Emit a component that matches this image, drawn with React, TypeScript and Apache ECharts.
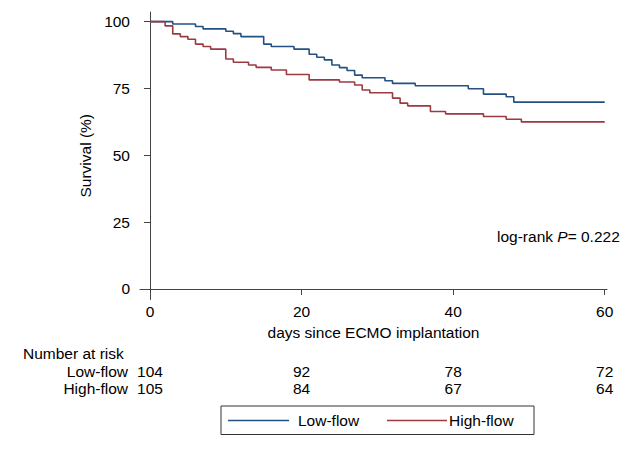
import React, { useEffect, useRef } from "react";
import * as echarts from "echarts";

// ---- data ----
const lowFlowDays = [0, 3, 6, 7, 10, 11, 12, 15, 16, 19, 21, 22, 23, 24, 25, 26, 27, 28, 31, 32, 35, 42, 44, 47, 48, 60];
const lowFlowSurv = [100, 99.1, 98.2, 97.3, 96.4, 95.5, 94.4, 91.6, 90.7, 89.7, 87.8, 86.7, 85.7, 83.8, 82.8, 81.7, 80.0, 79.0, 77.9, 76.9, 76.0, 74.9, 72.9, 71.9, 69.9, 69.9];
const highFlowDays = [0, 2, 3, 4, 5, 6, 7, 8, 10, 11, 13, 14, 16, 18, 21, 25, 27, 28, 29, 32, 33, 34, 37, 39, 44, 47, 49, 60];
const highFlowSurv = [100, 98.4, 95.4, 94.4, 93.4, 91.6, 90.7, 89.7, 86.0, 84.8, 83.8, 82.9, 81.9, 80.2, 78.2, 77.4, 76.3, 74.4, 73.4, 71.4, 69.5, 68.5, 66.4, 65.5, 64.5, 63.5, 62.5, 62.5];
const xTicks = [0, 20, 40, 60];
const yTicks = [0, 25, 50, 75, 100];
const lowFlowAtRisk = [104, 92, 78, 72];
const highFlowAtRisk = [105, 84, 67, 64];
const seriesNames = ["Low-flow", "High-flow"];
const logRankText = "0.222";

const FONT = "'Liberation Sans', Arial, Helvetica, sans-serif";
const BLUE = "#24517f";
const RED = "#9c3a42";
const AXIS = "#444";
const FS = 15.5;
const LH = 16;

export default function App() {
  const ref = useRef<HTMLDivElement>(null);
  useEffect(() => {
    if (!ref.current) return;
    const chart = echarts.init(ref.current, null, { renderer: "svg" });
    const riskAxis = (offset: number, values: number[]) => ({
      type: "value",
      gridIndex: 0,
      position: "bottom",
      offset,
      min: -1.32,
      max: 60.3,
      axisLine: { show: false },
      axisTick: { show: false },
      splitLine: { show: false },
      axisLabel: {
        customValues: xTicks,
        margin: 0,
        color: "#000",
        fontSize: FS,
        lineHeight: LH,
        fontFamily: FONT,
        formatter: (v: number) => String(values[xTicks.indexOf(v)] ?? ""),
      },
    });
    const txt = (x: number, y: number, text: string, align: string) => ({
      type: "text",
      x,
      y,
      style: { text, fontSize: FS, lineHeight: LH, fontFamily: FONT, fill: "#000", verticalAlign: "middle", align },
    });
    chart.setOption({
      animation: false,
      backgroundColor: "#fff",
      grid: { left: 140, top: 12, width: 467, height: 287.5, containLabel: false },
      xAxis: [
        {
          type: "value",
          min: -1.32,
          max: 60.3,
          axisLine: { show: true, lineStyle: { color: AXIS, width: 1 } },
          axisTick: { show: true, length: 6, customValues: xTicks, lineStyle: { color: AXIS } },
          axisLabel: { customValues: xTicks, margin: 4, color: "#000", fontSize: FS, fontFamily: FONT },
          splitLine: { show: false },
          name: "days since ECMO implantation",
          nameLocation: "middle",
          nameGap: 23,
          nameTextStyle: { color: "#000", fontSize: FS, fontFamily: FONT },
        },
        riskAxis(63.5, lowFlowAtRisk),
        riskAxis(80.5, highFlowAtRisk),
      ],
      yAxis: {
        type: "value",
        min: -3.93,
        max: 103.6,
        axisLine: { show: true, lineStyle: { color: AXIS, width: 1 } },
        axisTick: { show: true, length: 6, customValues: yTicks, lineStyle: { color: AXIS } },
        axisLabel: { customValues: yTicks, margin: 10, color: "#000", fontSize: FS, fontFamily: FONT },
        splitLine: { show: false },
        name: "Survival (%)",
        nameLocation: "middle",
        nameRotate: 90,
        nameGap: 39,
        nameTextStyle: { color: "#000", fontSize: FS, fontFamily: FONT },
      },
      series: [
        {
          name: seriesNames[0],
          type: "line",
          step: "end",
          xAxisIndex: 0,
          symbol: "none",
          lineStyle: { color: BLUE, width: 1.6 },
          data: lowFlowDays.map((d, i) => [d, lowFlowSurv[i]]),
        },
        {
          name: seriesNames[1],
          type: "line",
          step: "end",
          xAxisIndex: 0,
          symbol: "none",
          lineStyle: { color: RED, width: 1.6 },
          data: highFlowDays.map((d, i) => [d, highFlowSurv[i]]),
        },
      ],
      graphic: [
        {
          type: "text",
          x: 497,
          y: 236,
          style: {
            text: "{a|log-rank }{i|P}{a|= " + logRankText + "}",
            verticalAlign: "middle",
            align: "left",
            rich: {
              a: { fontSize: FS, fontFamily: FONT, fill: "#000", color: "#000" },
              i: { fontSize: FS, fontFamily: FONT, fontStyle: "italic", fill: "#000", color: "#000" },
            },
          },
        },
        txt(23, 353, "Number at risk", "left"),
        txt(128, 371, seriesNames[0], "right"),
        txt(128, 388, seriesNames[1], "right"),
        { type: "rect", shape: { x: 221, y: 406, width: 313, height: 28.5 }, style: { fill: "#fff", stroke: "#333", lineWidth: 1 } },
        { type: "line", shape: { x1: 228, y1: 420.5, x2: 289, y2: 420.5 }, style: { stroke: BLUE, lineWidth: 1.6 } },
        txt(298, 420.5, seriesNames[0], "left"),
        { type: "line", shape: { x1: 387, y1: 420.5, x2: 447, y2: 420.5 }, style: { stroke: RED, lineWidth: 1.6 } },
        txt(449, 420.5, seriesNames[1], "left"),
      ],
    });
    return () => chart.dispose();
  }, []);
  return <div ref={ref} style={{ position: "fixed", left: 0, top: 0, width: 622, height: 469 }} />;
}
